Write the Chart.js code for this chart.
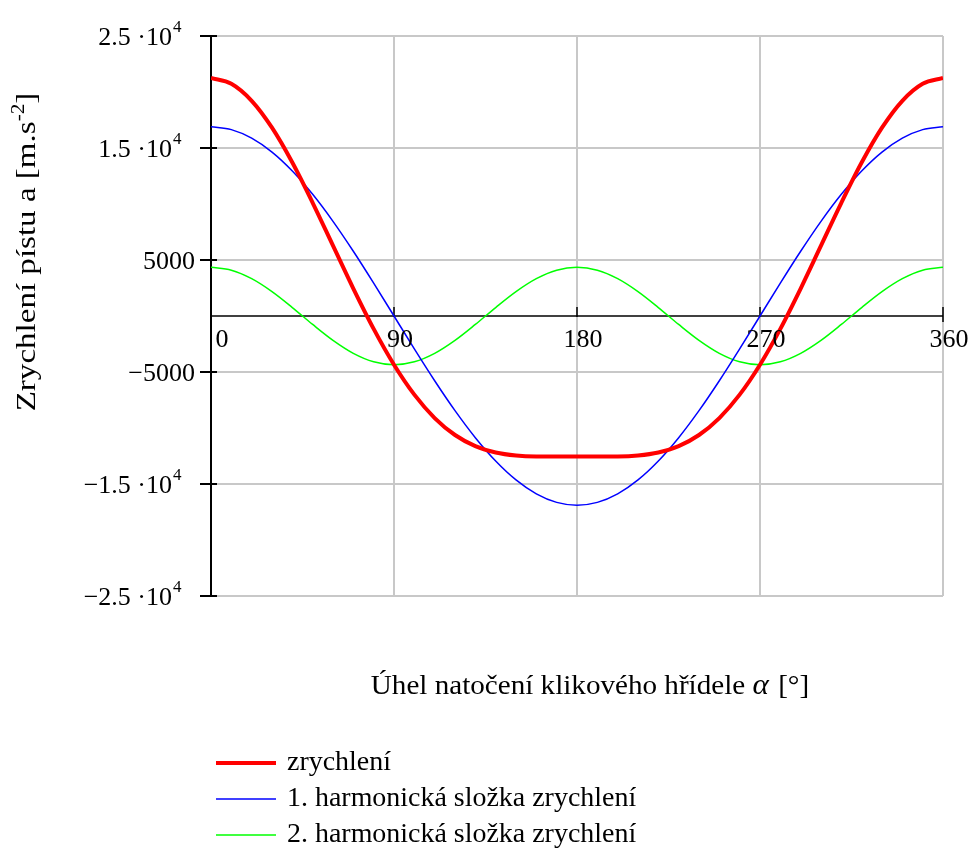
<!DOCTYPE html>
<html>
<head>
<meta charset="utf-8">
<script src="https://cdn.jsdelivr.net/npm/chart.js@4/dist/chart.umd.min.js"></script>
<style>
html,body{margin:0;padding:0;background:#fff;}
#wrap{width:973px;height:848px;position:relative;}
</style>
</head>
<body>
<div id="wrap"><canvas id="c" width="973" height="848"></canvas></div>
<script>
// crank angle [deg]
const angles = [0,10,20,30,40,50,60,70,80,90,100,110,120,130,140,150,160,170,180,
  190,200,210,220,230,240,250,260,270,280,290,300,310,320,330,340,350,360];
// total piston acceleration [m.s-2]
const accel = [21250,20731,19213,16811,13701,10108,6275,2448,-1153,-4350,-7023,-9112,-10625,-11618,-12191,-12461,-12549,-12555,-12550,
  -12555,-12549,-12461,-12191,-11618,-10625,-9112,-7023,-4350,-1153,2448,6275,10108,13701,16811,19213,20731,21250];
// 1st harmonic component
const harm1 = [16900,16643,15881,14636,12946,10863,8450,5780,2935,0,-2935,-5780,-8450,-10863,-12946,-14636,-15881,-16643,-16900,
  -16643,-15881,-14636,-12946,-10863,-8450,-5780,-2935,0,2935,5780,8450,10863,12946,14636,15881,16643,16900];
// 2nd harmonic component
const harm2 = [4350,4088,3332,2175,755,-755,-2175,-3332,-4088,-4350,-4088,-3332,-2175,-755,755,2175,3332,4088,4350,
  4088,3332,2175,755,-755,-2175,-3332,-4088,-4350,-4088,-3332,-2175,-755,755,2175,3332,4088,4350];

const seriesNames = ['zrychlení','1. harmonická složka zrychlení','2. harmonická složka zrychlení'];
const xTickValues = [0,90,180,270,360];
const xTickLabels = ['0','90','180','270','360'];
const yTickValues = [25000,15000,5000,-5000,-15000,-25000];
const yTickLabels = ['2.5 ·10^4','1.5 ·10^4','5000','−5000','−1.5 ·10^4','−2.5 ·10^4'];
const yTitle = ['Zrychlení pístu a [m.s','-2',']'];
const xTitle = ['Úhel natočení klikového hřídele ','α',' [°]'];

const toPts = arr => arr.map((v,i)=>({x:angles[i], y:v}));

const SERIF = '"Liberation Serif","DejaVu Serif",serif';

function measure(ctx, s, font, sx){ ctx.save(); ctx.font = font; const w = ctx.measureText(s).width*sx; ctx.restore(); return w; }
function txt(ctx, s, x, y, font, sx){
  ctx.save(); ctx.font = font; ctx.textAlign='left'; ctx.textBaseline='alphabetic';
  ctx.translate(x, y); ctx.scale(sx, 1); ctx.fillText(s, 0, 0); ctx.restore();
}

const decor = {
  id:'decor',
  beforeDatasetsDraw(chart){
    const ctx = chart.ctx, xs = chart.scales.x, ys = chart.scales.y, a = chart.chartArea;
    ctx.save();
    ctx.strokeStyle = '#000';
    ctx.lineWidth = 2;
    ctx.beginPath(); ctx.moveTo(a.left, a.top); ctx.lineTo(a.left, a.bottom); ctx.stroke();
    yTickValues.forEach(v=>{
      const y = Math.round(ys.getPixelForValue(v));
      ctx.beginPath(); ctx.moveTo(a.left-11, y); ctx.lineTo(a.left+6, y); ctx.stroke();
    });
    const y0 = Math.round(ys.getPixelForValue(0));
    ctx.lineWidth = 1.5;
    ctx.beginPath(); ctx.moveTo(a.left, y0); ctx.lineTo(a.right, y0); ctx.stroke();
    xTickValues.forEach((v,i)=>{
      if(i===0) return;
      const x = Math.round(xs.getPixelForValue(v));
      ctx.beginPath(); ctx.moveTo(x, y0-9); ctx.lineTo(x, y0 + (i===xTickValues.length-1?6:1)); ctx.stroke();
    });
    ctx.restore();
  },
  afterDraw(chart){
    const ctx = chart.ctx, xs = chart.scales.x, ys = chart.scales.y;
    ctx.save();
    ctx.fillStyle = '#000';
    // y tick labels
    const F26 = '26px ' + SERIF, F17 = '17px ' + SERIF;
    yTickLabels.forEach((lab,i)=>{
      const y = ys.getPixelForValue(yTickValues[i]);
      const parts = lab.split('^');
      if(parts.length===2){
        const w = measure(ctx, parts[0], F26, 1);
        txt(ctx, parts[0], 172-w, y+9, F26, 1);
        txt(ctx, parts[1], 173, y-4, F17, 1);
      } else {
        const w = measure(ctx, parts[0], F26, 1);
        txt(ctx, parts[0], 195-w, y+9, F26, 1);
      }
    });
    // x tick labels
    const y0 = ys.getPixelForValue(0);
    xTickLabels.forEach((lab,i)=>{
      const x = xs.getPixelForValue(xTickValues[i]) + (i===0?11:6);
      const w = measure(ctx, lab, F26, 1);
      txt(ctx, lab, x-w/2, y0+31, F26, 1);
    });
    // x title
    const FT = '28px ' + SERIF, FA = 'italic 30px ' + SERIF, sxT = 1.04;
    const w1 = measure(ctx, xTitle[0], FT, sxT);
    const w2 = measure(ctx, xTitle[1], FA, sxT);
    const w3 = measure(ctx, xTitle[2], FT, sxT);
    const sx0 = 589 - (w1+w2+w3)/2, by = 694;
    txt(ctx, xTitle[0], sx0, by, FT, sxT);
    txt(ctx, xTitle[1], sx0+w1, by, FA, sxT);
    txt(ctx, xTitle[2], sx0+w1+w2+2, by, FT, sxT);
    // y title (rotated)
    ctx.save();
    ctx.translate(35, 252);
    ctx.rotate(-Math.PI/2);
    const FY = '28px ' + SERIF, FYs = '18px ' + SERIF, sxY = 1.18;
    const t1 = measure(ctx, yTitle[0], FY, sxY);
    const t2 = measure(ctx, yTitle[1], FYs, sxY);
    const t3 = measure(ctx, yTitle[2], FY, sxY);
    const tx = -(t1+t2+t3)/2;
    txt(ctx, yTitle[0], tx, 0, FY, sxY);
    txt(ctx, yTitle[1], tx+t1, -11, FYs, sxY);
    txt(ctx, yTitle[2], tx+t1+t2, 0, FY, sxY);
    ctx.restore();
    // legend
    const rows = [763, 799, 835];
    const FL = '27px ' + SERIF;
    chart.data.datasets.forEach((ds,i)=>{
      ctx.strokeStyle = ds.borderColor;
      ctx.lineWidth = ds.borderWidth;
      ctx.beginPath(); ctx.moveTo(216, rows[i]); ctx.lineTo(276, rows[i]); ctx.stroke();
      txt(ctx, ds.label, 287, rows[i]+7, FL, 1.035);
    });
    ctx.restore();
  }
};

new Chart(document.getElementById('c'), {
  type:'line',
  data:{
    datasets:[
      {label:seriesNames[0], data:toPts(accel), borderColor:'#ff0000', borderWidth:4, pointRadius:0, cubicInterpolationMode:'monotone', fill:false},
      {label:seriesNames[1], data:toPts(harm1), borderColor:'#0000ff', borderWidth:1.5, pointRadius:0, cubicInterpolationMode:'monotone', fill:false},
      {label:seriesNames[2], data:toPts(harm2), borderColor:'#00ff00', borderWidth:1.5, pointRadius:0, cubicInterpolationMode:'monotone', fill:false}
    ]
  },
  options:{
    responsive:false,
    animation:false,
    devicePixelRatio:1,
    layout:{padding:{left:211, right:30, top:36, bottom:252}},
    plugins:{legend:{display:false}, tooltip:{enabled:false}},
    scales:{
      x:{type:'linear', min:0, max:360,
         ticks:{display:false, stepSize:90},
         afterBuildTicks: s => { s.ticks = xTickValues.map(v=>({value:v})); },
         grid:{color:'#c8c8c8', lineWidth:2, drawTicks:false},
         border:{display:false}},
      y:{type:'linear', min:-25000, max:25000,
         ticks:{display:false},
         afterBuildTicks: s => { s.ticks = yTickValues.map(v=>({value:v})); },
         grid:{color:'#c8c8c8', lineWidth:2, drawTicks:false},
         border:{display:false}}
    }
  },
  plugins:[decor]
});
</script>
</body>
</html>
